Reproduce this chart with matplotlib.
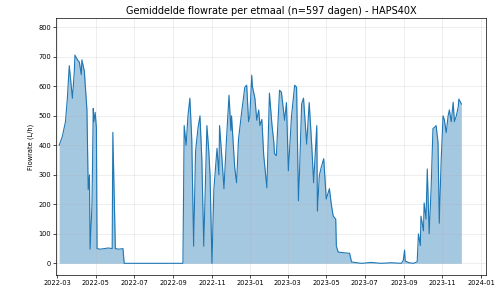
import pandas as pd
import matplotlib
matplotlib.use("Agg")
import matplotlib.pyplot as plt
import matplotlib.dates as mdates

# Daily mean flowrate (day offset from 2022-03-01, L/h)
start_date = "2022-03-01"
day_offsets = [
    3, 8, 13, 16, 19, 24, 27, 28, 32, 35, 38, 39, 43, 44, 47, 49, 51, 52, 55, 57,
    58, 60, 62, 63, 68, 74, 81, 87, 88, 90, 92, 98, 104, 106, 130, 160, 199,
    201, 204, 207, 210, 213, 216, 219, 223, 226, 229, 232, 235, 237, 240, 242,
    245, 248, 253, 256, 257, 261, 264, 268, 272, 275, 276, 281, 284, 287, 292,
    297, 300, 303, 305, 308, 309, 313, 316, 319, 321, 324, 327, 332, 336, 340,
    343, 344, 347, 352, 355, 360, 363, 366, 371, 376, 379, 382, 384, 387, 390,
    395, 399, 403, 406, 411, 412, 415, 418, 422, 426, 431, 434, 437, 441, 442,
    445, 453, 463, 466, 474, 482, 497, 513, 529, 545, 548, 550, 551, 557, 564,
    570, 572, 575, 576, 580, 581, 584, 586, 589, 592, 595, 597, 600, 603, 605,
    608, 611, 613, 616, 619, 621, 624, 627, 629, 632, 635, 636, 640,
]
flow_values = [
    400, 430, 480, 560, 670, 560, 650, 706, 690, 682, 640, 690, 650, 614, 520, 250, 300, 48, 200, 525,
    480, 512, 460, 50, 48, 50, 52, 50, 444, 250, 50, 48, 50, 0, 0, 0, 0,
    467, 400, 500, 560, 420, 58, 380, 460, 500, 350, 58, 300, 467, 380, 297,
    0, 250, 390, 300, 467, 350, 253, 420, 570, 450, 500, 325, 273, 420, 512,
    597, 604, 480, 500, 638, 600, 560, 485, 520, 467, 488, 365, 256, 577, 470,
    410, 372, 365, 587, 580, 485, 545, 314, 500, 604, 597, 212, 331, 540, 560,
    404, 545, 400, 273, 467, 177, 297, 325, 355, 218, 253, 200, 160, 150, 58,
    38, 36, 34, 5, 2, 0, 3, 0, 2, 0, 10, 45, 8, 2, 0,
    5, 100, 60, 160, 110, 205, 150, 320, 100, 250, 457, 460, 467, 410, 136,
    350, 500, 487, 443, 500, 520, 480, 546, 480, 500, 530, 557, 540,
]

dates = pd.Timestamp(start_date) + pd.to_timedelta(day_offsets, unit="D")

fig = plt.figure(figsize=(5, 2.89), dpi=100)
ax = fig.add_axes([0.112, 0.048, 0.86, 0.89])

ax.fill_between(dates, 0, flow_values, color="#1f77b4", alpha=0.4, linewidth=0)
ax.plot(dates, flow_values, color="#1f77b4", linewidth=0.8)

ax.set_title("Gemiddelde flowrate per etmaal (n=597 dagen) - HAPS40X", fontsize=7, pad=3)
ax.set_ylabel("Flowrate (L/h)", fontsize=4.8, labelpad=3)
ax.set_xlim(pd.Timestamp("2022-02-27"), pd.Timestamp("2024-01-09"))
ax.set_ylim(-40, 832)

ax.xaxis.set_major_locator(mdates.MonthLocator(bymonth=[1, 3, 5, 7, 9, 11]))
ax.xaxis.set_major_formatter(mdates.DateFormatter("%Y-%m"))
ax.tick_params(labelsize=4.8, length=2, width=0.5, pad=1.5)
ax.grid(True, alpha=0.3, linewidth=0.5)
for s in ax.spines.values():
    s.set_linewidth(0.5)

plt.savefig("out.png", dpi=100)
